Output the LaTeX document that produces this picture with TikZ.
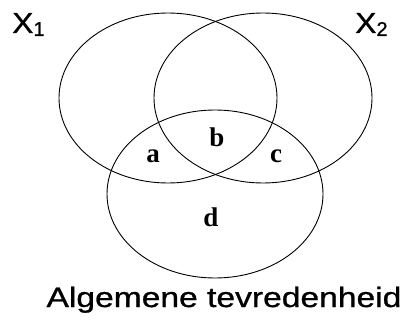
\documentclass[tikz,border=0pt]{standalone}
\usepackage{fontspec}
\setmainfont{Liberation Serif}
\setsansfont{Liberation Sans}
\newfontfamily\heavysans[FakeBold=0.8]{Liberation Sans}
\usetikzlibrary{shapes.geometric}
\tikzset{
  venn/.style={draw=black, line width=0.9pt, ellipse, inner sep=0pt},
  region/.style={font=\fontsize{27}{27}\selectfont\bfseries\rmfamily, inner sep=0pt},
  setlabel/.style={font=\fontsize{29}{30}\selectfont\heavysans, inner sep=0pt, anchor=base west},
  title/.style={font=\fontsize{28}{28}\selectfont\heavysans, inner sep=0pt, anchor=base}
}
\begin{document}
\begin{tikzpicture}[x=1pt,y=-1pt]
\useasboundingbox[fill=white] (0,0) rectangle (409,320);
\node[venn, minimum width=218pt, minimum height=170pt] (x1) at (168,98) {};
\node[venn, minimum width=218pt, minimum height=170pt] (x2) at (263,98) {};
\node[venn, minimum width=216pt, minimum height=168pt] (y) at (215,194) {};
\node[region] (a) at (153,156) {a};
\node[region] (b) at (217,137) {b};
\node[region] (c) at (276,156) {c};
\node[region] (d) at (211,217) {d};
\node[setlabel] (l1) at (12,33) {\scalebox{1.1}[1]{X}\raisebox{-3pt}{\fontsize{20}{20}\selectfont 1}};
\node[setlabel] (l2) at (355,33) {\scalebox{1.1}[1]{X}\raisebox{-3pt}{\fontsize{20}{20}\selectfont 2}};
\node[title] (t) at (224,307) {\scalebox{1.2}[1]{Algemene tevredenheid}};
\end{tikzpicture}
\end{document}
